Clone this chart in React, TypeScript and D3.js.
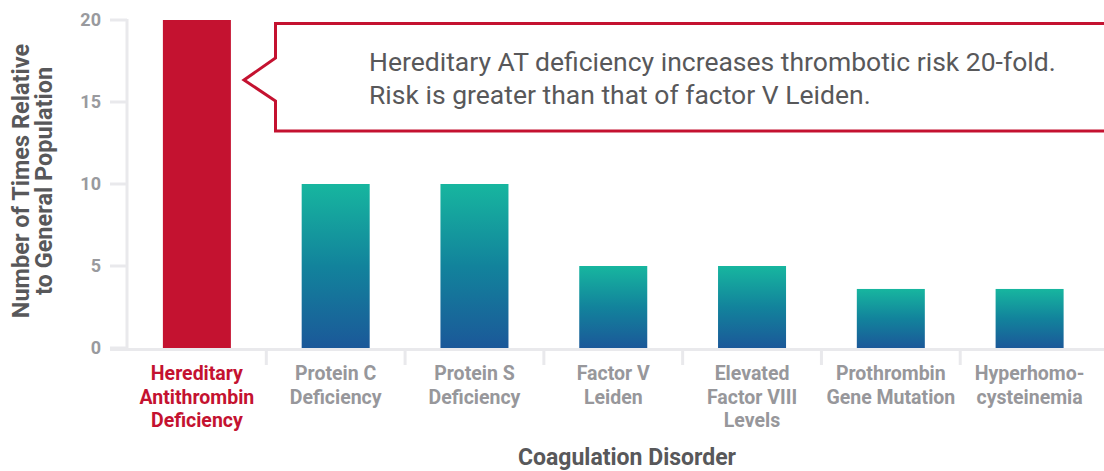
import { useEffect, useRef } from "react";
import * as d3 from "d3";

const categories = [
  ["Hereditary", "Antithrombin", "Deficiency"],
  ["Protein C", "Deficiency"],
  ["Protein S", "Deficiency"],
  ["Factor V", "Leiden"],
  ["Elevated", "Factor VIII", "Levels"],
  ["Prothrombin", "Gene Mutation"],
  ["Hyperhomo-", "cysteinemia"],
];
const values = [20, 10, 10, 5, 5, 3.6, 3.6];
const yTicks = [0, 5, 10, 15, 20];
const yTitle = ["Number of Times Relative", "to General Population"];
const xTitle = "Coagulation Disorder";
const callout = [
  "Hereditary AT deficiency increases thrombotic risk 20-fold.",
  "Risk is greater than that of factor V Leiden.",
];

const width = 1104;
const height = 471;
const red = "#c41230";
const font = "Roboto, sans-serif";

export default function App() {
  const ref = useRef<SVGSVGElement>(null);

  useEffect(() => {
    const svg = d3.select(ref.current);
    svg.selectAll("*").remove();

    const names = categories.map((c) => c.join(" "));
    const x = d3.scaleBand().domain(names).range([127.5, 1099]).paddingInner(0.51).paddingOuter(0.255);
    const step = x.step();
    const y = d3.scaleLinear().domain([0, 20]).range([348, 20]);

    const defs = svg.append("defs");
    const grad = defs
      .append("linearGradient")
      .attr("id", "barGrad")
      .attr("x1", 0)
      .attr("y1", 0)
      .attr("x2", 0)
      .attr("y2", 1);
    grad.append("stop").attr("offset", "0%").attr("stop-color", "#17b69f");
    grad.append("stop").attr("offset", "50%").attr("stop-color", "#12839c");
    grad.append("stop").attr("offset", "100%").attr("stop-color", "#1b5899");

    // y ticks and axis line
    const gy = svg.append("g");
    gy.selectAll("line.tick")
      .data(yTicks)
      .join("line")
      .attr("x1", 110)
      .attr("x2", 127)
      .attr("y1", (d) => y(d))
      .attr("y2", (d) => y(d))
      .attr("stroke", "#e9e9ec")
      .attr("stroke-width", 3);
    gy.append("line")
      .attr("x1", 127)
      .attr("x2", 127)
      .attr("y1", y(20) - 1)
      .attr("y2", y(0))
      .attr("stroke", "#e9e9ec")
      .attr("stroke-width", 3);
    gy.selectAll("text")
      .data(yTicks)
      .join("text")
      .attr("x", 101)
      .attr("y", (d) => y(d))
      .attr("dy", "0.36em")
      .attr("text-anchor", "end")
      .attr("font-family", font)
      .attr("font-weight", 700)
      .attr("font-size", 18)
      .attr("fill", "#999a9e")
      .text((d) => d);

    // x axis line and dividers
    svg.append("line")
      .attr("x1", 110)
      .attr("x2", width)
      .attr("y1", 349.5)
      .attr("y2", 349.5)
      .attr("stroke", "#e9e9ec")
      .attr("stroke-width", 3);
    svg.selectAll("line.div")
      .data(names.slice(1))
      .join("line")
      .attr("x1", (d) => (x(d) ?? 0) - (step - x.bandwidth()) / 2)
      .attr("x2", (d) => (x(d) ?? 0) - (step - x.bandwidth()) / 2)
      .attr("y1", 349)
      .attr("y2", 365)
      .attr("stroke", "#e9e9ec")
      .attr("stroke-width", 3);

    // bars
    svg.selectAll("rect.bar")
      .data(values)
      .join("rect")
      .attr("x", (_, i) => x(names[i]) ?? 0)
      .attr("y", (d) => y(d))
      .attr("width", x.bandwidth())
      .attr("height", (d) => y(0) - y(d))
      .attr("fill", (_, i) => (i === 0 ? red : "url(#barGrad)"));

    // category labels
    categories.forEach((lines, i) => {
      const cx = (x(names[i]) ?? 0) + x.bandwidth() / 2;
      const t = svg
        .append("text")
        .attr("text-anchor", "middle")
        .attr("font-family", font)
        .attr("font-weight", 700)
        .attr("font-size", 19.5)
        .attr("fill", i === 0 ? red : "#97979b");
      lines.forEach((ln, j) => {
        t.append("tspan").attr("x", cx).attr("y", 380 + j * 23.5).text(ln);
      });
      // keep the last label inside the frame
      const box = (t.node() as SVGTextElement).getBBox();
      const over = box.x + box.width - (width - 3);
      if (over > 0) t.attr("transform", `translate(${-over},0)`);
    });

    // axis titles
    const yt = svg
      .append("text")
      .attr("transform", "translate(0,181) rotate(-90)")
      .attr("text-anchor", "middle")
      .attr("font-family", font)
      .attr("font-weight", 700)
      .attr("font-size", 23.5)
      .attr("fill", "#58585a");
    yTitle.forEach((ln, j) => {
      yt.append("tspan").attr("x", 0).attr("y", 29 + j * 22.5).text(ln);
    });
    svg.append("text")
      .attr("x", 627)
      .attr("y", 465)
      .attr("text-anchor", "middle")
      .attr("font-family", font)
      .attr("font-weight", 700)
      .attr("font-size", 23)
      .attr("fill", "#58585a")
      .text(xTitle);

    // callout box
    const path = d3.path();
    path.moveTo(width + 10, 23.5);
    path.lineTo(275.5, 23.5);
    path.lineTo(275.5, 58);
    path.lineTo(244, 80);
    path.lineTo(275.5, 101);
    path.lineTo(275.5, 131);
    path.lineTo(width + 10, 131);
    svg.append("path")
      .attr("d", path.toString())
      .attr("fill", "#fff")
      .attr("stroke", red)
      .attr("stroke-width", 3);
    const ct = svg
      .append("text")
      .attr("font-family", font)
      .attr("font-size", 26.5)
      .attr("fill", "#58585a");
    callout.forEach((ln, j) => {
      ct.append("tspan").attr("x", 369).attr("y", 71 + j * 33).text(ln);
    });
  }, []);

  return (
    <svg
      ref={ref}
      width={width}
      height={height}
      style={{ position: "absolute", left: 0, top: 0, background: "#fff" }}
    />
  );
}
